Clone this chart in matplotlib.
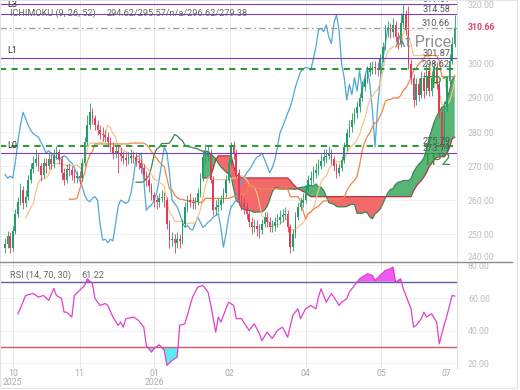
import numpy as np
import pandas as pd
import matplotlib
matplotlib.use("Agg")
import matplotlib.pyplot as plt
import matplotlib.transforms as mtransforms
from matplotlib.lines import Line2D
from matplotlib.patches import Rectangle

plt.rcParams['font.family'] = ['Roboto', 'DejaVu Sans']

# daily candles (open = previous close)
closes = [247, 249.5, 246, 251, 256, 259.5, 263, 259, 261, 266,
          269, 271, 272, 270, 267.5, 271, 270, 272, 270.5, 273,
          274, 272, 268, 266, 269, 268.8, 267.5, 266.5, 267, 266.5,
          271, 277, 282, 285.8, 284, 282, 280.5, 279.5, 279, 278.5,
          277, 275.5, 273.8, 274.5, 273.8, 273, 272.5, 271.8, 272.5, 273,
          272.6, 271.5, 270.9, 269.5, 267.5, 265.9, 264, 261.5, 260, 259.5,
          260.5, 261, 260, 253, 248.2, 248.5, 247.5, 248.5, 248, 253,
          258, 260, 259.5, 259, 259.5, 262, 266.5, 272.6, 273, 273.8,
          266, 257, 258, 258.5, 260, 262, 266, 271, 275.6, 273.8,
          268, 260, 259, 258, 256, 253.5, 252, 252.5, 251.5, 251.2,
          253, 255, 253.5, 252, 252.5, 253.5, 254, 255, 255.5, 256,
          252, 246.2, 250, 255, 258, 259, 260, 263, 265.9, 266.5,
          268, 268.8, 270, 271.5, 272.6, 273, 273.8, 272, 270, 268,
          269.5, 271.8, 275.5, 279.7, 281.5, 283.5, 285.5, 287.4, 290, 293.2,
          295.5, 297.7, 298.5, 299, 298.8, 298.2, 301.5, 305, 310, 310.5,
          309.5, 311.5, 308, 306, 312, 314.4, 310, 300, 296, 289.4,
          294, 291, 296, 292, 298, 292, 296, 299, 294, 286,
          275.6, 287.4, 295, 301, 306, 310.66]
highs = [249, 251, 250.5, 252.5, 257.5, 261, 265, 264, 263, 267.5,
         271, 273, 275, 273.5, 271, 272.5, 272.5, 274, 273.5, 275,
         276, 275, 273, 269.5, 270.5, 271, 270, 269, 268.5, 268.5,
         272.5, 278.5, 285, 288.5, 287, 285, 283.5, 282, 281.5, 280.5,
         280, 278.5, 277, 276, 276, 275.5, 274.5, 274, 274, 275,
         274.5, 274, 273, 272, 270.5, 268.5, 267, 265, 262.5, 261.5,
         262, 263, 262.5, 261, 254, 250.5, 250, 250.5, 250, 254.5,
         259.5, 261.5, 262, 261, 261, 263.5, 268, 274.5, 276.5, 276,
         275, 267, 260, 260.5, 261.5, 263.5, 267.5, 272.5, 277, 277.5,
         275, 269, 261.5, 260.5, 259.5, 257, 255, 254.5, 254, 253,
         254.5, 256.5, 256.5, 255, 254, 255, 256, 257, 257.5, 258,
         257, 253, 251.5, 256.5, 259.5, 261, 262, 264.5, 267.5, 268.5,
         270, 271, 272, 273.5, 275, 275, 276, 275, 273, 271,
         271, 273, 277, 281, 283.5, 285.5, 287, 289, 291.5, 295,
         297, 299.5, 300.5, 301, 301, 300.5, 303, 306.5, 311.5, 312.5,
         312, 313.5, 312.5, 309.5, 315, 317.5, 316, 317, 301.5, 297,
         296, 296, 298, 297.5, 300, 299.5, 298, 301, 300.5, 295,
         287, 289, 296.5, 303, 308, 314.5]
lows = [244.5, 246, 244.5, 245, 250, 255, 258.5, 257.5, 258, 260,
        265, 268, 270, 268.5, 265.5, 266.5, 268, 269, 269, 269.5,
        272, 270.5, 266, 264.5, 265, 267, 266, 265, 265, 265,
        265.5, 270, 276, 281, 282.5, 280.5, 279, 278, 277.5, 277,
        275.5, 274, 272, 272.5, 268, 271.5, 270.5, 270, 270.5, 271,
        271, 270, 269, 268, 266, 264, 262.5, 260, 258, 257.5,
        258, 259.5, 258, 251.5, 246, 246.5, 244.5, 246, 246, 247,
        252, 256.5, 258, 257.5, 257.5, 258.5, 261, 265.5, 271, 271.5,
        265, 255.5, 255.5, 256.5, 257, 259, 261, 265, 270, 272,
        266.5, 258.5, 257, 256, 254.5, 252, 250, 250.5, 249.5, 249,
        250, 252, 252, 250.5, 250.5, 251, 252, 253, 253.5, 254.5,
        250.5, 244.5, 245, 249, 254, 257, 258, 259, 262, 264.5,
        265, 266.5, 267.5, 269, 270, 271, 272, 270.5, 268.5, 266.5,
        267, 268.5, 271, 274.5, 278.5, 280, 282.5, 284, 286, 289,
        292, 294.5, 296.5, 297, 297, 296.5, 297, 300.5, 304, 308,
        307.5, 308, 306.5, 304.5, 305, 311, 308.5, 298.5, 294, 287.5,
        288, 289, 290, 290, 291, 290.5, 290.5, 295, 292.5, 284,
        275, 275, 286, 294, 300, 305]
opens = [246] + closes[:-1]

# RSI line (bar index, value)
rsi_bar = [5, 6, 8, 11, 13, 15, 17, 19, 20, 22, 23, 24, 26, 27, 29, 31, 32, 34, 35, 37,
           39, 40, 42, 44, 45, 46, 47, 50, 52, 54, 55, 57, 58, 60, 62, 63, 65, 67, 68, 70,
           73, 75, 77, 79, 80, 82, 83, 84, 86, 87, 89, 90, 92, 95, 97, 99, 100, 102, 104, 106,
           108, 110, 112, 114, 115, 117, 119, 121, 122, 123, 125, 127, 128, 130, 131, 133, 134, 135, 137, 138,
           141, 143, 144, 146, 148, 150, 151, 152, 154, 155, 156, 158, 159, 160, 162, 163, 164, 166, 168, 169,
           170, 172, 174, 175]
rsi_val = [50.4, 53.7, 61.6, 62.8, 60.6, 61.6, 58.6, 65.9, 61.6, 59.8, 51.4, 51.4, 48.4, 61.6, 64.7, 67.8, 71.8, 69, 59.8, 55.5,
           56.7, 55.5, 48.4, 43.3, 45.3, 42.2, 47.4, 48.4, 46.3, 42.2, 31, 26.9, 29, 31.4, 28, 18.8, 21.8, 23.9, 43.3, 44.3,
           60.6, 66.7, 67.8, 63.7, 56.5, 39.2, 48.4, 45.3, 53.5, 57.5, 55.5, 47.4, 47.4, 40.2, 44.3, 38.2, 34, 39.2, 35.3, 40.2,
           42.2, 36.1, 49.4, 53.5, 47.4, 53.5, 55.5, 53.5, 60.6, 65.7, 57.5, 62.7, 60.6, 55.5, 57.5, 59.6, 63.7, 65.7, 69.8, 71.8,
           74.9, 73.9, 70.8, 73.9, 76.9, 78, 79, 69.8, 71.8, 65.7, 61.6, 53.5, 42.2, 43.3, 47.4, 51.4, 48.4, 50.4, 45.3, 32,
           38.2, 49.4, 61.6, 61.22]

month_ticks = [3, 29, 58, 87.5, 117, 146.5, 171.6]
month_labels = ['10\n2025', '11', '01\n2026', '02', '04', '05', '07']

purple_levels = [317.51, 314.58, 301.87, 273.79]
green_levels = [298.62, 275.79]
last_price = 310.66
level_labels = ['317.51', '314.58', '310.66', '301.87', '298.62', '275.79', '273.79']
level_prices = [317.51, 314.58, 310.66, 301.87, 298.62, 275.79, 273.79]
big_labels = [(310.66, 'At Price', '#8c8c8c'), (298.62, 'TP1', '#2f9a3c'), (275.79, 'TP2', '#2f9a3c')]
l_labels = [(317.51, 'L3', 0), (301.87, 'L1', 5.2), (273.79, 'L0', 5.6)]

GREEN = '#1f9e68'
RED = '#e23a5a'

# ichimoku from the candles
df = pd.DataFrame({'h': highs, 'l': lows, 'c': closes})
tenkan = (df.h.rolling(9).max() + df.l.rolling(9).min()) / 2
kijun = (df.h.rolling(26).max() + df.l.rolling(26).min()) / 2
span_a = ((tenkan + kijun) / 2).shift(26)
span_b = ((df.h.rolling(52).max() + df.l.rolling(52).min()) / 2).shift(26)
chikou = df.c.shift(-26)

x = np.arange(len(closes))
o = np.array(opens, float)
c = np.array(closes, float)
h = np.array(highs, float)
l = np.array(lows, float)

fig = plt.figure(figsize=(5.2, 3.9), dpi=100)
fig.patch.set_facecolor('white')
ax = fig.add_axes([0, 128 / 390, 457 / 520, 262 / 390])
ar = fig.add_axes([0, 22 / 390, 457 / 520, 106 / 390])

x0, x1 = -1.95, 175.9
for a in (ax, ar):
    a.set_xlim(x0, x1)
    for s in ('top', 'left', 'bottom'):
        a.spines[s].set_visible(False)
    a.spines['right'].set_color('#dedede')
    a.spines['right'].set_linewidth(0.8)
    a.yaxis.tick_right()
    a.tick_params(axis='y', length=0, pad=7.9, labelsize=6.3, labelcolor='#bdbdbd')
    a.grid(axis='y', color='#ececec', lw=0.6)
    a.set_axisbelow(True)
    for t in month_ticks[:-1]:
        a.axvline(t, color='#e4e4e4', lw=0.6, zorder=0)

# --- main panel ---
ax.set_ylim(241.8, 318.8)
ax.set_yticks([250, 260, 270, 280, 290, 300, 310])
ax.set_yticklabels(['250.00', '260.00', '270.00', '280.00', '290.00', '300.00', ''])
ax.tick_params(axis='x', length=0, labelbottom=False)

a_v = span_a.values
b_v = span_b.values
ok = ~np.isnan(a_v) & ~np.isnan(b_v)
ax.fill_between(x[ok], a_v[ok], b_v[ok], where=a_v[ok] >= b_v[ok], interpolate=True,
                color='#57b576', lw=0, zorder=1)
ax.fill_between(x[ok], a_v[ok], b_v[ok], where=a_v[ok] < b_v[ok], interpolate=True,
                color='#f26a6a', lw=0, zorder=1)
ax.plot(x, span_a, color='#3c8456', lw=0.9, zorder=1.5)
ax.plot(x, span_b, color='#b83246', lw=0.9, zorder=1.5)
ax.plot(x, chikou, color='#4fa6d8', lw=0.9, zorder=2)
ax.plot(x, tenkan, color='#f6c589', lw=0.9, zorder=2)
ax.plot(x, kijun, color='#ef8646', lw=0.9, zorder=2)

cols = np.where(c >= o, GREEN, RED)
ax.vlines(x, l, h, colors=cols, lw=0.6, zorder=3)
ax.bar(x, np.maximum(np.abs(c - o), 0.35), bottom=np.minimum(o, c), width=0.62,
       color=cols, lw=0, zorder=3)

for p in purple_levels:
    ax.axhline(p, color='#7b3db3', lw=0.8, zorder=4)
for p in green_levels:
    ax.axhline(p, color='#2f9a3c', lw=1.5, dashes=(3, 2.5), zorder=4)
ax.axhline(last_price, color='#9a9a9a', lw=0.9, dashes=(5, 2.5, 1.5, 2.5), zorder=4)

trans = mtransforms.blended_transform_factory(ax.transAxes, ax.transData)
for p, s in zip(level_prices, level_labels):
    ax.text(0.985, p, s, transform=trans, ha='right', va='bottom', fontsize=6.6,
            color='#555555', zorder=5)
for p, s, col in big_labels:
    ax.annotate(s, (0.987, p), xycoords=trans, xytext=(0, -10.5), textcoords='offset points',
                ha='right', va='center', fontsize=11.5, color=col, zorder=5)
for p, s, off in l_labels:
    ax.annotate(s, (0.016, p), xycoords=trans, xytext=(0, off), textcoords='offset points',
                ha='left', va='center', fontsize=6.6, color='#333333', zorder=5)

ax.text(0.022, 0.949, 'ICHIMOKU (9, 26, 52)', transform=ax.transAxes, fontsize=6.6,
        color='#666666', va='center', zorder=5)
ax.text(0.234, 0.949, '294.62/295.57/n/a/296.62/279.38', transform=ax.transAxes,
        fontsize=6.6, color='#666666', va='center', zorder=5)

ax.text(1.024, 1 - 6 / 262, '320.00', transform=ax.transAxes, fontsize=6.3,
        color='#bdbdbd', va='center', ha='left')
ax.text(1.024, 1 - 257 / 262, '240.00', transform=ax.transAxes, fontsize=6.3,
        color='#bdbdbd', va='center', ha='left')
ax.text(1.024, last_price, '%.2f' % last_price, transform=trans, fontsize=6.3,
        color='#e0405e', va='center', ha='left', fontweight='bold')

# --- RSI panel ---
ar.set_ylim(17.2, 82.1)
ar.set_yticks([20, 40, 60, 80])
ar.set_yticklabels(['20.00', '40.00', '60.00', '80.00'])
rb = np.array(rsi_bar, float)
rv = np.array(rsi_val, float)
ar.fill_between(rb, rv, 70, where=rv >= 70, interpolate=True, color='#ee5df0', lw=0)
ar.fill_between(rb, rv, 30, where=rv <= 30, interpolate=True, color='#5cecf0', lw=0)
ar.axhline(70, color='#5e5eaa', lw=1.0)
ar.axhline(30, color='#cf5c63', lw=1.0)
ar.plot(rb, rv, color='#e13fcf', lw=0.9)
ar.set_xticks(month_ticks)
ar.set_xticklabels(month_labels)
ar.tick_params(axis='x', length=0, pad=1.0, labelsize=6.3, labelcolor='#aaaaaa')
for t in ar.get_xticklabels():
    t.set_linespacing(1.0)
ar.text(0.022, 0.875, 'RSI (14, 70, 30)', transform=ar.transAxes, fontsize=6.6,
        color='#666666', va='center')
ar.text(0.177, 0.875, '%.2f' % rsi_val[-1], transform=ar.transAxes, fontsize=6.6,
        color='#666666', va='center')

fig.add_artist(Line2D([0, 512 / 520], [1 - 262 / 390, 1 - 262 / 390], color='#8a8a8a', lw=1.0))
fig.add_artist(Rectangle((0, 2 / 390), 517 / 520, 388 / 390, fill=False, ec='#e3e3e3', lw=0.8,
                         transform=fig.transFigure))

fig.savefig('out.png', dpi=100)
